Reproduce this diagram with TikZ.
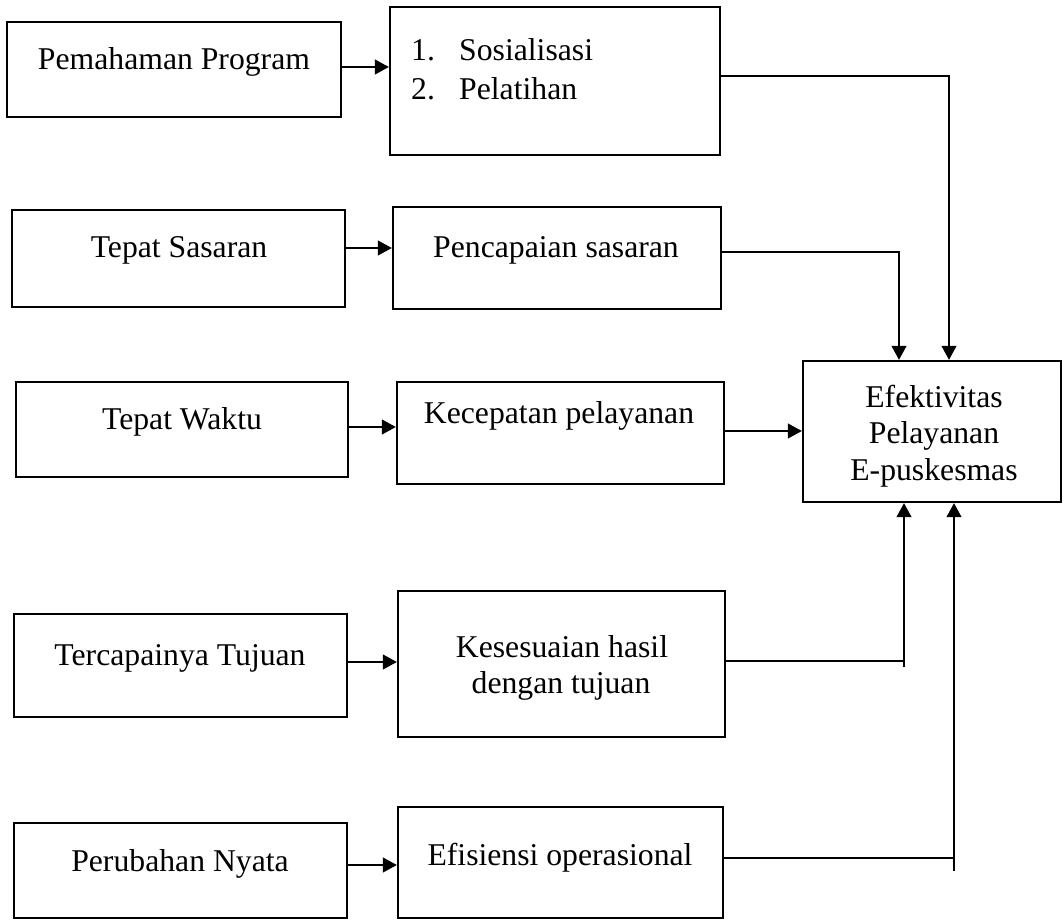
\documentclass[tikz,border=0pt]{standalone}
\usepackage{fontspec}
\setmainfont{Liberation Serif}
\usetikzlibrary{arrows.meta,fit}
\begin{document}
\begin{tikzpicture}[x=1pt,y=-1pt,
  box/.style={draw,line width=2.4pt,inner sep=0pt,rectangle},
  lbl/.style={anchor=base,inner sep=0pt,font=\fontsize{31.7}{36}\selectfont},
  lblw/.style={lbl,anchor=base west},
  conn/.style={line width=1.1pt},
  arr/.style={conn,-{Triangle[length=14pt,width=15pt]}}]
\useasboundingbox (0,0) rectangle (1063,920);
% boxes
\node[box,fit={(7,22)(341,117)}] (l1) {};
\node[box,fit={(12,210)(345,307)}] (l2) {};
\node[box,fit={(16,382)(348,477)}] (l3) {};
\node[box,fit={(14,614)(347,717)}] (l4) {};
\node[box,fit={(14,823)(347,918)}] (l5) {};
\node[box,fit={(390,7)(720,155)}] (m1) {};
\node[box,fit={(393,207)(721,309)}] (m2) {};
\node[box,fit={(397,382)(724,484)}] (m3) {};
\node[box,fit={(398,591)(725,737)}] (m4) {};
\node[box,fit={(398,807)(723,918)}] (m5) {};
\node[box,fit={(803,361)(1061,502)}] (r) {};
% texts
\node[lbl] (t1) at (174,70) {Pemahaman Program};
\node[lbl] (t2) at (179,258) {Tepat Sasaran};
\node[lbl] (t3) at (182,429) {Tepat Waktu};
\node[lbl] (t4) at (180,665) {Tercapainya Tujuan};
\node[lbl] (t5) at (180,871) {Perubahan Nyata};
\node[lblw] (n1) at (411,61) {1.};
\node[lblw] (s1) at (459,61) {Sosialisasi};
\node[lblw] (n2) at (411,100) {2.};
\node[lblw] (s2) at (459,100) {Pelatihan};
\node[lbl] (u2) at (556,258) {Pencapaian sasaran};
\node[lbl] (u3) at (559,423) {Kecepatan pelayanan};
\node[lbl] (u4a) at (562,657) {Kesesuaian hasil};
\node[lbl] (u4b) at (561,693) {dengan tujuan};
\node[lbl] (u5) at (560,865) {Efisiensi operasional};
\node[lbl] (r1) at (934,407) {Efektivitas};
\node[lbl] (r2) at (934,443) {Pelayanan};
\node[lbl] (r3) at (934,480) {E-puskesmas};
% left arrows
\coordinate (a1) at (0,67);
\coordinate (a2) at (0,248);
\coordinate (a3) at (0,427);
\coordinate (a4) at (0,662);
\coordinate (a5) at (0,865);
\draw[arr] (l1.east |- a1) -- (m1.west |- a1);
\draw[arr] (l2.east |- a2) -- (m2.west |- a2);
\draw[arr] (l3.east |- a3) -- (m3.west |- a3);
\draw[arr] (l4.east |- a4) -- (m4.west |- a4);
\draw[arr] (l5.east |- a5) -- (m5.west |- a5);
% right connectors
\coordinate (p1) at (949,76);
\coordinate (p2) at (899,252);
\coordinate (p3) at (0,431);
\coordinate (p4a) at (904,661);
\coordinate (p4b) at (904,667);
\coordinate (p5a) at (954,858);
\coordinate (p5b) at (954,871);
\draw[arr] (m1.east |- p1) -- (p1) -- (r.north -| p1);
\draw[arr] (m2.east |- p2) -- (p2) -- (r.north -| p2);
\draw[arr] (m3.east |- p3) -- (r.west |- p3);
\draw[conn] (m4.east |- p4a) -- (p4a);
\draw[arr] (p4b) -- (r.south -| p4b);
\draw[conn] (m5.east |- p5a) -- (p5a);
\draw[arr] (p5b) -- (r.south -| p5b);
\end{tikzpicture}
\end{document}
